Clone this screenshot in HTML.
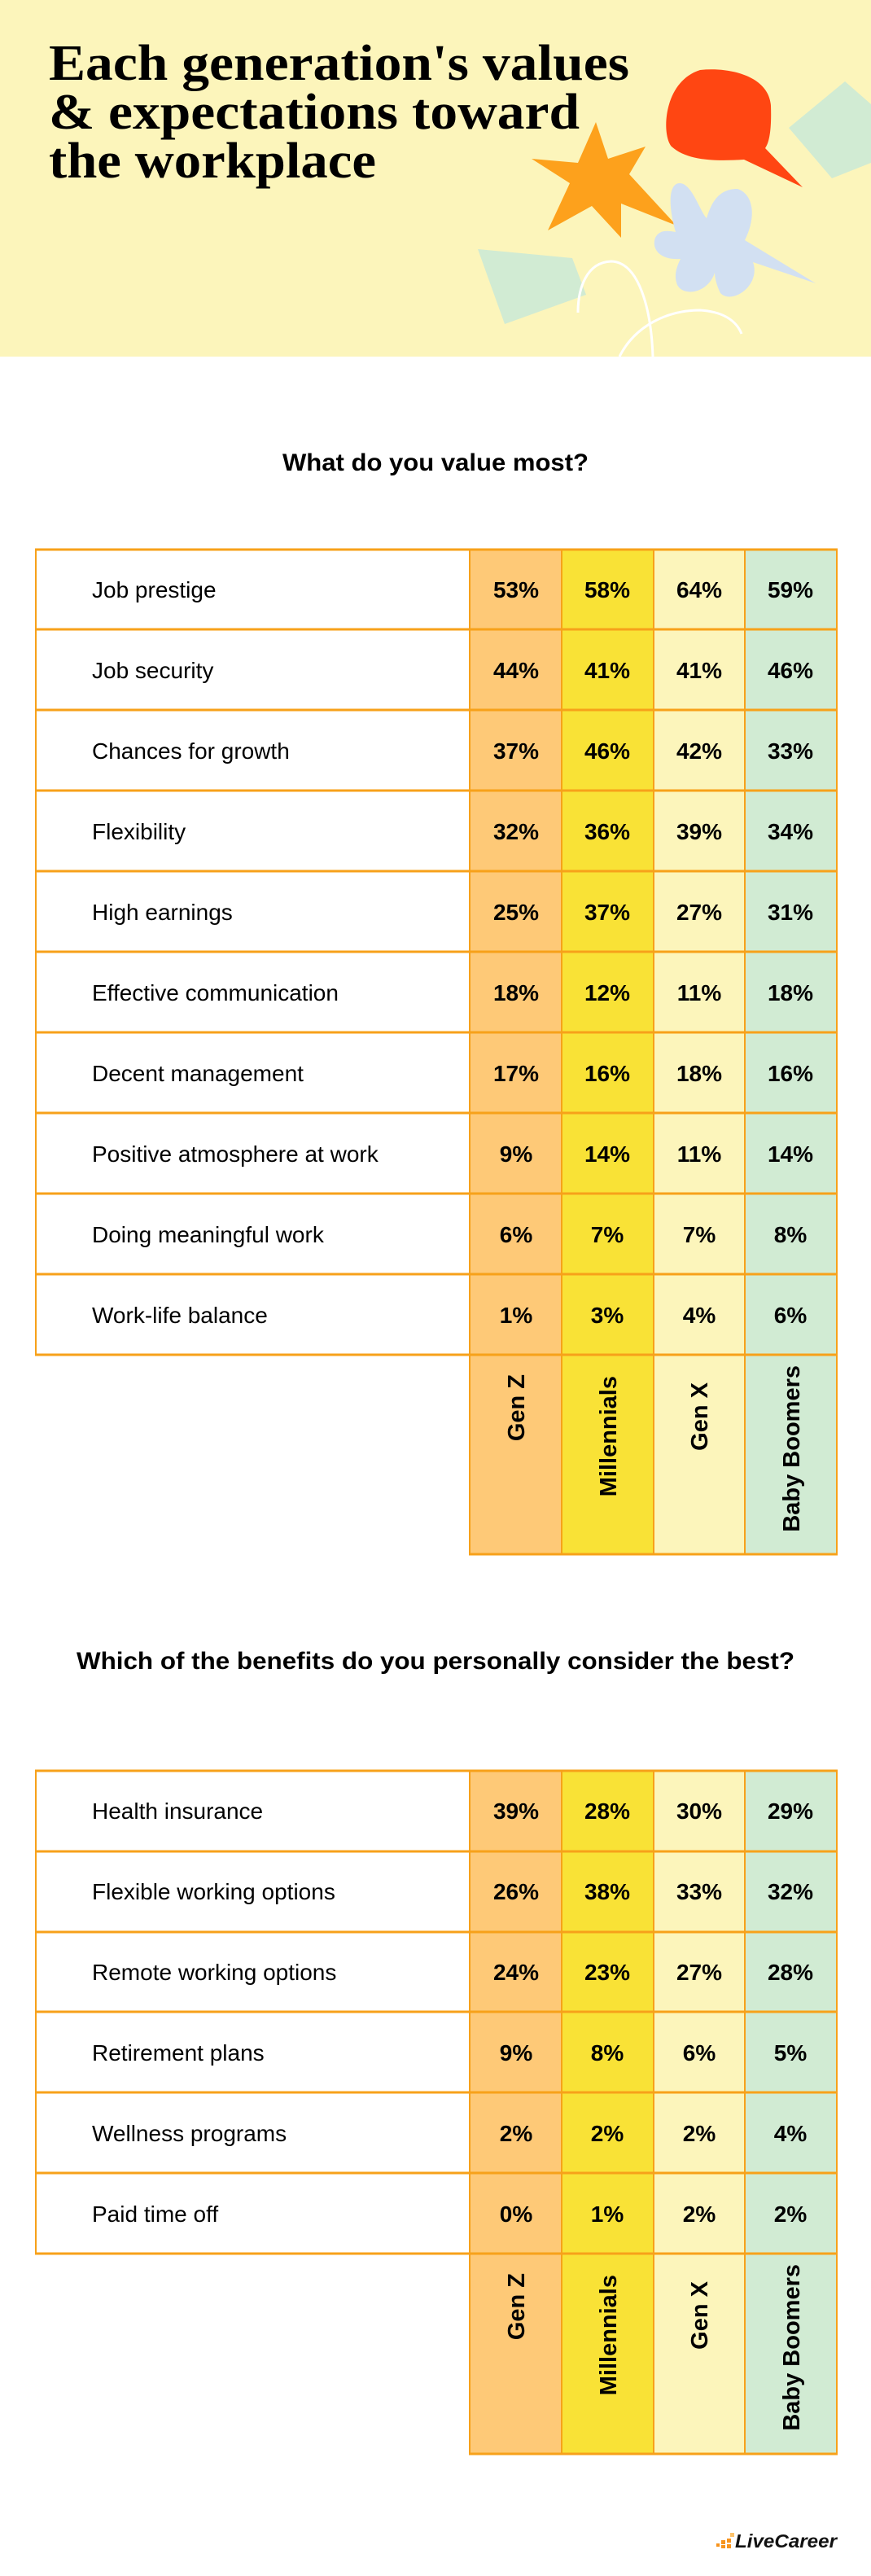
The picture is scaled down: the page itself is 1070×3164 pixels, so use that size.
<!DOCTYPE html>
<html><head><meta charset="utf-8"><style>
html,body{margin:0;padding:0;background:#fff;}
svg{display:block;}
.s{font-family:"Liberation Sans",sans-serif;}
.t{font-family:"Liberation Serif",serif;font-weight:bold;}
</style></head><body>
<svg width="1070" height="3164" viewBox="0 0 1070 3164" xmlns="http://www.w3.org/2000/svg">
<rect x="0" y="0" width="1070" height="438" fill="#fcf5bb"/>
<polygon points="1038,100 1070,128 1070,200 1022,219 969,157" fill="#d1ebd3"/>
<path d="M860,86 C900,82 945,95 947,130 C948,160 945,175 940,182 L986,230 L914,196 C880,198 845,198 825,180 C812,165 815,100 860,86 Z" fill="#ff4612"/>
<polygon points="732,150 747,195 793,180 773,214 831,277 763,250 763,292 727,253 673,283 700,225 653,195 710,200" fill="#fda11c"/>
<path d="M830,285 C820,250 822,225 835,225 C850,225 860,260 868,268 C875,245 885,232 906,232 C925,238 930,265 915,295 L1002,348 L925,322 C935,350 900,375 885,360 C880,350 878,340 878,335 C870,360 840,365 832,350 C828,340 830,330 836,318 C810,320 800,305 805,292 C810,282 820,283 830,285 Z" fill="#d2e0f2"/>
<polygon points="587,306 703,317 720,362 620,398" fill="#d1ebd3"/>
<path d="M710,384 C710,355 720,322 751,321 C785,322 800,380 802,438" fill="none" stroke="#fff" stroke-width="3"/>
<path d="M761,438 C780,400 820,381 860,381 C890,383 905,395 911,410" fill="none" stroke="#fff" stroke-width="3"/>
<g class="t" font-size="62" fill="#000">
<text class="t" x="60" y="98" textLength="713" lengthAdjust="spacingAndGlyphs">Each generation's values</text>
<text class="t" x="60" y="158" textLength="652" lengthAdjust="spacingAndGlyphs">&amp; expectations toward</text>
<text class="t" x="60" y="218" textLength="402" lengthAdjust="spacingAndGlyphs">the workplace</text>
</g>

<g class="s">
<text x="535" y="578" text-anchor="middle" font-weight="bold" font-size="30" textLength="376" lengthAdjust="spacingAndGlyphs">What do you value most?</text>
<text x="535" y="2050" text-anchor="middle" font-weight="bold" font-size="30" textLength="882" lengthAdjust="spacingAndGlyphs">Which of the benefits do you personally consider the best?</text>

<g>
<rect x="577" y="674" width="113" height="1236" fill="#fec977"/>
<rect x="690" y="674" width="113" height="1236" fill="#f9e236"/>
<rect x="803" y="674" width="112" height="1236" fill="#fcf5bb"/>
<rect x="915" y="674" width="113" height="1236" fill="#d1ebd3"/>
<g stroke="#f7a11a" stroke-width="2" fill="none">
<line x1="577" y1="674" x2="577" y2="1910"/><line x1="690" y1="674" x2="690" y2="1910"/>
<line x1="803" y1="674" x2="803" y2="1910"/><line x1="915" y1="674" x2="915" y2="1910"/>
<line x1="1028" y1="674" x2="1028" y2="1910"/><line x1="44" y1="674" x2="44" y2="1664"/>
</g>
<g stroke="#f7a11a" stroke-width="3">
<line x1="43" y1="675" x2="1029" y2="675"/><line x1="43" y1="773" x2="1029" y2="773"/>
<line x1="43" y1="872" x2="1029" y2="872"/><line x1="43" y1="971" x2="1029" y2="971"/>
<line x1="43" y1="1070" x2="1029" y2="1070"/><line x1="43" y1="1169" x2="1029" y2="1169"/>
<line x1="43" y1="1268" x2="1029" y2="1268"/><line x1="43" y1="1367" x2="1029" y2="1367"/>
<line x1="43" y1="1466" x2="1029" y2="1466"/><line x1="43" y1="1565" x2="1029" y2="1565"/>
<line x1="43" y1="1664" x2="1029" y2="1664"/><line x1="576" y1="1909" x2="1029" y2="1909"/>
</g>
<g font-size="28" fill="#000">
<text x="113" y="734">Job prestige</text>
<text x="113" y="833">Job security</text>
<text x="113" y="932">Chances for growth</text>
<text x="113" y="1031">Flexibility</text>
<text x="113" y="1130">High earnings</text>
<text x="113" y="1229">Effective communication</text>
<text x="113" y="1328">Decent management</text>
<text x="113" y="1427">Positive atmosphere at work</text>
<text x="113" y="1526">Doing meaningful work</text>
<text x="113" y="1625">Work-life balance</text>
</g>
<g font-size="28" font-weight="bold" fill="#000" text-anchor="middle">
<text x="634" y="734">53%</text><text x="746" y="734">58%</text><text x="859" y="734">64%</text><text x="971" y="734">59%</text>
<text x="634" y="833">44%</text><text x="746" y="833">41%</text><text x="859" y="833">41%</text><text x="971" y="833">46%</text>
<text x="634" y="932">37%</text><text x="746" y="932">46%</text><text x="859" y="932">42%</text><text x="971" y="932">33%</text>
<text x="634" y="1031">32%</text><text x="746" y="1031">36%</text><text x="859" y="1031">39%</text><text x="971" y="1031">34%</text>
<text x="634" y="1130">25%</text><text x="746" y="1130">37%</text><text x="859" y="1130">27%</text><text x="971" y="1130">31%</text>
<text x="634" y="1229">18%</text><text x="746" y="1229">12%</text><text x="859" y="1229">11%</text><text x="971" y="1229">18%</text>
<text x="634" y="1328">17%</text><text x="746" y="1328">16%</text><text x="859" y="1328">18%</text><text x="971" y="1328">16%</text>
<text x="634" y="1427">9%</text><text x="746" y="1427">14%</text><text x="859" y="1427">11%</text><text x="971" y="1427">14%</text>
<text x="634" y="1526">6%</text><text x="746" y="1526">7%</text><text x="859" y="1526">7%</text><text x="971" y="1526">8%</text>
<text x="634" y="1625">1%</text><text x="746" y="1625">3%</text><text x="859" y="1625">4%</text><text x="971" y="1625">6%</text>
</g>
<g font-size="29" font-weight="bold" fill="#000" text-anchor="end">
<text transform="translate(644,1688) rotate(-90)">Gen Z</text>
<text transform="translate(757,1690) rotate(-90)">Millennials</text>
<text transform="translate(869,1698) rotate(-90)">Gen X</text>
<text transform="translate(982,1677) rotate(-90)">Baby Boomers</text>
</g>
</g>

<g>
<rect x="577" y="2175" width="113" height="840" fill="#fec977"/>
<rect x="690" y="2175" width="113" height="840" fill="#f9e236"/>
<rect x="803" y="2175" width="112" height="840" fill="#fcf5bb"/>
<rect x="915" y="2175" width="113" height="840" fill="#d1ebd3"/>
<g stroke="#f7a11a" stroke-width="2" fill="none">
<line x1="577" y1="2175" x2="577" y2="3015"/><line x1="690" y1="2175" x2="690" y2="3015"/>
<line x1="803" y1="2175" x2="803" y2="3015"/><line x1="915" y1="2175" x2="915" y2="3015"/>
<line x1="1028" y1="2175" x2="1028" y2="3015"/><line x1="44" y1="2175" x2="44" y2="2768"/>
</g>
<g stroke="#f7a11a" stroke-width="3">
<line x1="43" y1="2175" x2="1029" y2="2175"/><line x1="43" y1="2274" x2="1029" y2="2274"/>
<line x1="43" y1="2373" x2="1029" y2="2373"/><line x1="43" y1="2471" x2="1029" y2="2471"/>
<line x1="43" y1="2570" x2="1029" y2="2570"/><line x1="43" y1="2669" x2="1029" y2="2669"/>
<line x1="43" y1="2768" x2="1029" y2="2768"/><line x1="576" y1="3014" x2="1029" y2="3014"/>
</g>
<g font-size="28" fill="#000">
<text x="113" y="2234">Health insurance</text>
<text x="113" y="2333">Flexible working options</text>
<text x="113" y="2432">Remote working options</text>
<text x="113" y="2531">Retirement plans</text>
<text x="113" y="2630">Wellness programs</text>
<text x="113" y="2729">Paid time off</text>
</g>
<g font-size="28" font-weight="bold" fill="#000" text-anchor="middle">
<text x="634" y="2234">39%</text><text x="746" y="2234">28%</text><text x="859" y="2234">30%</text><text x="971" y="2234">29%</text>
<text x="634" y="2333">26%</text><text x="746" y="2333">38%</text><text x="859" y="2333">33%</text><text x="971" y="2333">32%</text>
<text x="634" y="2432">24%</text><text x="746" y="2432">23%</text><text x="859" y="2432">27%</text><text x="971" y="2432">28%</text>
<text x="634" y="2531">9%</text><text x="746" y="2531">8%</text><text x="859" y="2531">6%</text><text x="971" y="2531">5%</text>
<text x="634" y="2630">2%</text><text x="746" y="2630">2%</text><text x="859" y="2630">2%</text><text x="971" y="2630">4%</text>
<text x="634" y="2729">0%</text><text x="746" y="2729">1%</text><text x="859" y="2729">2%</text><text x="971" y="2729">2%</text>
</g>
<g font-size="29" font-weight="bold" fill="#000" text-anchor="end">
<text transform="translate(644,2792) rotate(-90)">Gen Z</text>
<text transform="translate(757,2794) rotate(-90)">Millennials</text>
<text transform="translate(869,2802) rotate(-90)">Gen X</text>
<text transform="translate(982,2781) rotate(-90)">Baby Boomers</text>
</g>
</g>

<g fill="#f7941d">
<rect x="880" y="3124" width="4" height="4"/><rect x="886" y="3120" width="5" height="5"/><rect x="886" y="3126" width="5" height="4"/>
<rect x="893" y="3118" width="5" height="5"/><rect x="893" y="3125" width="5" height="5"/>
<rect x="897" y="3111" width="5" height="5" fill="#fcc26b"/>
</g>
<text x="903" y="3129" font-size="23" font-weight="bold" font-style="italic" fill="#111" textLength="125" lengthAdjust="spacingAndGlyphs">LiveCareer</text>
</g>
</svg>
</body></html>
